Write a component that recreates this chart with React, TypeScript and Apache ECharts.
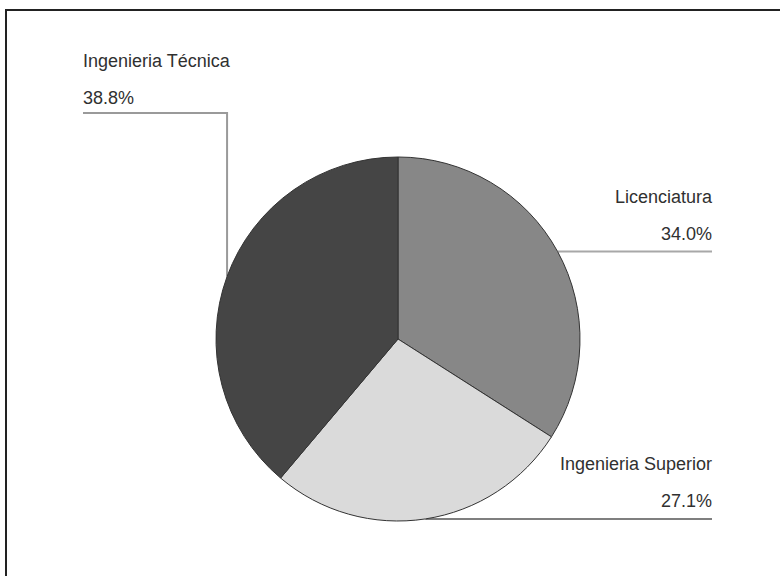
import React, { useEffect, useRef } from 'react';
import * as echarts from 'echarts';

const categories = ['Licenciatura', 'Ingenieria Superior', 'Ingenieria Técnica'];
const values = [34.0, 27.1, 38.8];
const sliceColors = ['#878787', '#dadada', '#454545'];
const leaderColors = ['#a8a8a8', '#555555', '#9a9a9a'];
const leaderWidths = [2, 1.5, 2];

export default function App() {
  const ref = useRef<HTMLDivElement>(null);
  useEffect(() => {
    document.body.style.margin = '0';
    const chart = echarts.init(ref.current!, null, { renderer: 'svg' });
    const center = [398, 339];
    const radius = 182;
    const total = values.reduce((a, b) => a + b, 0);
    const mids: number[][] = [];
    let cum = 0;
    values.forEach((v) => {
      const f = (cum + v / 2) / total;
      cum += v;
      const a = f * 2 * Math.PI;
      mids.push([center[0] + radius * Math.sin(a), center[1] - radius * Math.cos(a)]);
    });

    chart.setOption({
      animation: false,
      backgroundColor: '#ffffff',
      graphic: [
        {
          type: 'rect',
          shape: { x: 6, y: 10, width: 1000, height: 1000 },
          style: { fill: 'none', stroke: '#222222', lineWidth: 2 },
          silent: true,
        },
      ],
      series: [
        {
          type: 'pie',
          center: center,
          radius: radius,
          startAngle: 90,
          clockwise: true,
          avoidLabelOverlap: false,
          silent: true,
          itemStyle: { borderColor: '#333333', borderWidth: 1 },
          label: {
            show: true,
            position: 'outside',
            fontSize: 18,
            fontFamily: '"Liberation Sans", Arial, sans-serif',
            color: '#303030',
            lineHeight: 37,
            formatter: (p: any) => p.name + '\n' + Number(p.value).toFixed(1) + '%',
          },
          labelLine: { show: true, length: 10, length2: 10 },
          labelLayout: (params: any) => {
            const i = params.dataIndex;
            const m = mids[i];
            if (i === 2) {
              return {
                x: 83,
                y: 42,
                align: 'left',
                verticalAlign: 'top',
                labelLinePoints: [m, [m[0], 113], [83, 113]],
              };
            }
            const ty = i === 0 ? 178 : 445;
            return {
              x: 712,
              y: ty,
              align: 'right',
              verticalAlign: 'top',
              labelLinePoints: [m, [(m[0] + 712) / 2, m[1]], [712, m[1]]],
            };
          },
          data: categories.map((name, i) => ({
            name,
            value: values[i],
            itemStyle: { color: sliceColors[i] },
            labelLine: { lineStyle: { color: leaderColors[i], width: leaderWidths[i] } },
          })),
        },
      ],
    });
    return () => chart.dispose();
  }, []);
  return <div ref={ref} style={{ width: 780, height: 576 }} />;
}
